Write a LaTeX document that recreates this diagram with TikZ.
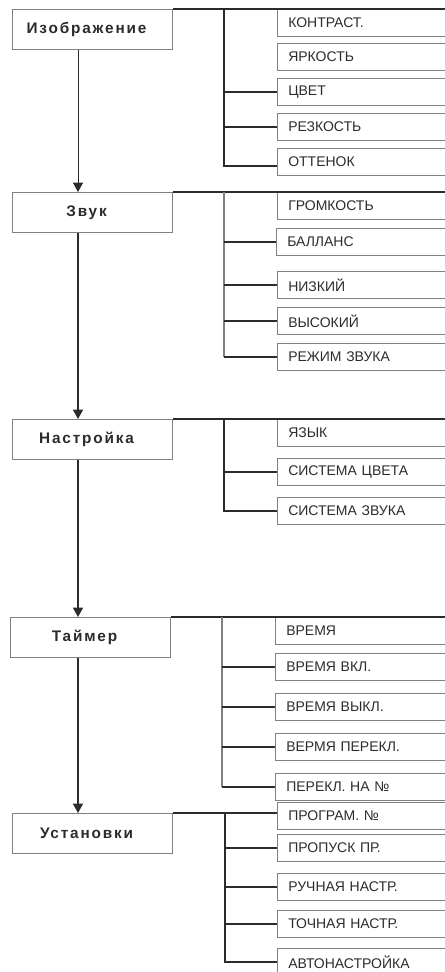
\documentclass[tikz,border=0pt]{standalone}
\usepackage{fontspec}
\setmainfont{Liberation Sans}
\newfontfamily\headfont[LetterSpace=12]{Liberation Sans}
\usetikzlibrary{arrows.meta}
\definecolor{ink}{HTML}{2B2B2B}
\definecolor{frame}{HTML}{808080}

\begin{document}
\begin{tikzpicture}[x=0.75pt,y=-0.75pt,
    mainbox/.style = {draw=frame,line width=0.8pt,anchor=north west,minimum width=120pt,minimum height=30pt,inner sep=0pt,text=ink,font=\headfont\bfseries\fontsize{11.5}{13}\selectfont},
    subbox/.style = {draw=frame,line width=0.9pt,anchor=north west,minimum height=20pt,text width=120pt,inner xsep=8pt,inner ysep=0pt,align=left,text=ink,font=\fontsize{10.5}{12}\selectfont},
    branch/.style = {draw=ink,line width=1.1pt},
    bus/.style = {draw=ink,line width=1.1pt},
    thinbus/.style = {draw=frame,line width=0.8pt},
    flow/.style = {draw=ink,line width=1.1pt,-{Triangle[width=7.5pt,length=7pt]}}]
      \useasboundingbox (0,0) rectangle (444,972);
      \coordinate (ax) at (78,0);

      % main menu
      \node[mainbox] (img) at (12,9) {Изображение\hspace*{9pt}};
      \node[mainbox] (snd) at (12,192) {Звук\hspace*{9pt}};
      \node[mainbox] (setup) at (12,419) {Настройка\hspace*{9pt}};
      \node[mainbox] (timer) at (10,617) {Таймер\hspace*{9pt}};
      \node[mainbox] (inst) at (12,813) {Установки\hspace*{9pt}};

      \draw[flow,line width=0.6pt] (img.south -| ax) -- (snd.north -| ax);
      \draw[flow] (snd.south -| ax) -- (setup.north -| ax);
      \draw[flow] (setup.south -| ax) -- (timer.north -| ax);
      \draw[flow] (timer.south -| ax) -- (inst.north -| ax);

      % Изображение
      \node[subbox] (i1) at (277,9) {КОНТРАСТ.};
      \node[subbox] (i2) at (277,43) {ЯРКОСТЬ};
      \node[subbox] (i3) at (277,78) {ЦВЕТ};
      \node[subbox] (i4) at (277,113) {РЕЗКОСТЬ};
      \node[subbox] (i5) at (277,148) {ОТТЕНОК};
      \coordinate (bi) at (224,9);
      \draw[branch] (img.north east) -- (i1.north east);
      \draw[bus] (bi) |- ([yshift=-3pt]i5.west);
      \draw[branch] (bi |- i3.west) -- (i3.west);
      \draw[branch] (bi |- i4.west) -- (i4.west);

      % Звук
      \node[subbox] (s1) at (277,192) {ГРОМКОСТЬ};
      \node[subbox] (s2) at (276,228) {БАЛЛАНС};
      \node[subbox] (s3) at (277,271) {НИЗКИЙ};
      \node[subbox] (s4) at (277,307) {ВЫСОКИЙ};
      \node[subbox] (s5) at (277,343) {РЕЖИМ ЗВУКА};
      \coordinate (bs) at (224,192);
      \draw[branch] (snd.north east) -- (s1.north east);
      \draw[thinbus] (bs) -- (bs |- s5.west);
      \draw[branch] (bs |- s2.west) -- (s2.west);
      \draw[branch] (bs |- s3.west) -- (s3.west);
      \draw[branch] (bs |- s4.west) -- (s4.west);
      \draw[branch] (bs |- s5.west) -- (s5.west);

      % Настройка
      \node[subbox] (n1) at (277,419) {ЯЗЫК};
      \node[subbox] (n2) at (277,458) {СИСТЕМА ЦВЕТА};
      \node[subbox] (n3) at (277,497) {СИСТЕМА ЗВУКА};
      \coordinate (bn) at (224,419);
      \draw[branch] (setup.north east) -- (n1.north east);
      \draw[bus] (bn) |- (n3.west);
      \draw[branch] (bn |- n2.west) -- (n2.west);

      % Таймер
      \node[subbox] (t1) at (275,617) {ВРЕМЯ};
      \node[subbox] (t2) at (275,653) {ВРЕМЯ ВКЛ.};
      \node[subbox] (t3) at (275,693) {ВРЕМЯ ВЫКЛ.};
      \node[subbox] (t4) at (275,733) {ВЕРМЯ ПЕРЕКЛ.};
      \node[subbox] (t5) at (275,773) {ПЕРЕКЛ. НА №};
      \coordinate (bt) at (222,617);
      \draw[branch] (timer.north east) -- (t1.north east);
      \draw[thinbus] (bt) -- (bt |- t5.west);
      \draw[branch] (bt |- t2.west) -- (t2.west);
      \draw[branch] (bt |- t3.west) -- (t3.west);
      \draw[branch] (bt |- t4.west) -- (t4.west);
      \draw[branch] (bt |- t5.west) -- (t5.west);

      % Установки
      \node[subbox] (u1) at (277,802) {ПРОГРАМ. №};
      \node[subbox] (u2) at (277,834) {ПРОПУСК ПР.};
      \node[subbox] (u3) at (277,873) {РУЧНАЯ НАСТР.};
      \node[subbox] (u4) at (277,910) {ТОЧНАЯ НАСТР.};
      \node[subbox] (u5) at (277,948) {АВТОНАСТРОЙКА};
      \coordinate (bu) at (225,813);
      \draw[branch] (inst.north east) -- (inst.north east -| u1.west);
      \draw[bus] (bu) |- (u5.west);
      \draw[branch] (bu |- u2.west) -- (u2.west);
      \draw[branch] (bu |- u3.west) -- (u3.west);
      \draw[branch] (bu |- u4.west) -- (u4.west);
    \end{tikzpicture}
\end{document}
